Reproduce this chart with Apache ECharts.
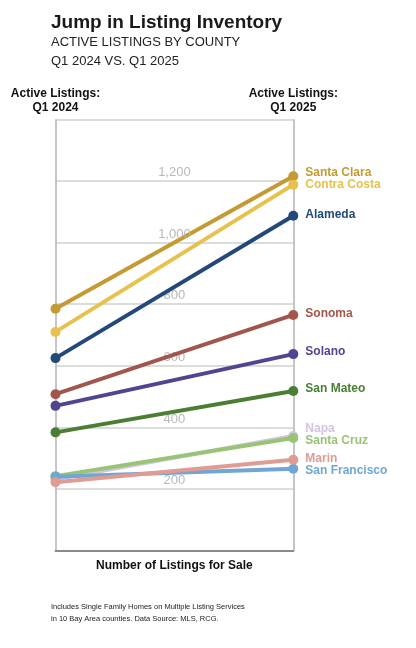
<!DOCTYPE html>
<html>
<head>
<meta charset="utf-8">
<script src="https://cdn.jsdelivr.net/npm/echarts@6/dist/echarts.min.js"></script>
<style>
html,body{margin:0;padding:0;background:#fff;}
#chart{width:416px;height:648px;}
</style>
</head>
<body>
<div id="chart"></div>
<script>
const periods = ['Active Listings:\nQ1 2024', 'Active Listings:\nQ1 2025'];
const counties = ['Santa Clara','Contra Costa','Alameda','Sonoma','Solano','San Mateo','Napa','Santa Cruz','San Francisco','Marin'];
const q1_2024 = [785, 710, 625, 508, 470, 384, 232, 242, 240, 222];
const q1_2025 = [1215, 1188, 1087, 765, 638, 518, 372, 366, 266, 295];
const colors = ['#C39A33','#E8C14C','#22497A','#A3554B','#4F4590','#4B7E32','#D0C4E0','#98C474','#6EA7D6','#E29B92'];
const labelOffsets = [-4, 0, -1, -1, -2, -2, -7, 3, 2, -1];
const gridTicks = [200, 400, 600, 800, 1000, 1200];

const chart = echarts.init(document.getElementById('chart'));

const series = counties.map((name, i) => ({
  name: name,
  type: 'line',
  data: [q1_2024[i], q1_2025[i]],
  symbol: 'circle',
  symbolSize: 10,
  z: 3 + i,
  lineStyle: { color: colors[i], width: 4 },
  itemStyle: { color: colors[i] },
  emphasis: { disabled: true },
  label: {
    show: true,
    formatter: (p) => p.dataIndex === 1 ? name : '',
    position: 'right',
    distance: 7,
    offset: [0, labelOffsets[i]],
    color: colors[i],
    fontFamily: 'Liberation Sans, Arial, sans-serif',
    fontWeight: 'bold',
    fontSize: 12
  }
}));

series.unshift({
  name: 'grid-labels',
  type: 'line',
  data: [0, 0],
  z: 1,
  silent: true,
  symbol: 'none',
  lineStyle: { color: 'rgba(0,0,0,0)', width: 0 },
  label: { show: false },
  markLine: {
    silent: true,
    symbol: 'none',
    animation: false,
    lineStyle: { color: 'rgba(0,0,0,0)', width: 1, type: 'solid' },
    label: {
      show: true,
      position: 'insideMiddleTop',
      distance: 2,
      formatter: (p) => Number(p.value).toLocaleString('en-US'),
      color: '#b8b8b8',
      fontFamily: 'Liberation Sans, Arial, sans-serif',
      fontSize: 13
    },
    data: gridTicks.map(v => ({ yAxis: v }))
  }
});

chart.setOption({
  animation: false,
  backgroundColor: '#fff',
  title: [
    {
      text: 'Jump in Listing Inventory',
      left: 46, top: 8,
      textStyle: { fontFamily: 'Liberation Sans, Arial, sans-serif', fontWeight: 'bold', fontSize: 19, color: '#1a1a1a' }
    },
    {
      text: 'ACTIVE LISTINGS BY COUNTY',
      left: 46, top: 31,
      textStyle: { fontFamily: 'Liberation Sans, Arial, sans-serif', fontWeight: 'normal', fontSize: 13, color: '#222' }
    },
    {
      text: 'Q1 2024 VS. Q1 2025',
      left: 46, top: 50,
      textStyle: { fontFamily: 'Liberation Sans, Arial, sans-serif', fontWeight: 'normal', fontSize: 13, color: '#222' }
    },
    {
      text: 'Includes Single Family Homes on Multiple Listing Services\nin 10 Bay Area counties. Data Source: MLS, RCG.',
      left: 46, top: 596,
      textStyle: { fontFamily: 'Liberation Sans, Arial, sans-serif', fontWeight: 'normal', fontSize: 7.5, lineHeight: 12, color: '#222' }
    }
  ],
  grid: { left: 55.5, right: 122.7, top: 119.3, bottom: 97.3, containLabel: false },
  xAxis: [
    {
      type: 'category',
      data: periods,
      boundaryGap: false,
      position: 'top',
      axisLine: { show: false },
      axisTick: { show: false },
      splitLine: { show: true, lineStyle: { color: '#b3b3b3', width: 1.5 } },
      axisLabel: {
        margin: 5,
        color: '#111',
        fontFamily: 'Liberation Sans, Arial, sans-serif',
        fontWeight: 'bold',
        fontSize: 12,
        lineHeight: 14
      }
    },
    {
      type: 'category',
      data: periods,
      boundaryGap: false,
      position: 'bottom',
      axisLine: { show: true, lineStyle: { color: '#8a8a8a', width: 2 } },
      axisTick: { show: false },
      axisLabel: { show: false },
      name: 'Number of Listings for Sale',
      nameLocation: 'middle',
      nameGap: 9,
      nameTextStyle: { color: '#111', fontFamily: 'Liberation Sans, Arial, sans-serif', fontWeight: 'bold', fontSize: 12 }
    }
  ],
  yAxis: {
    type: 'value',
    min: 0, max: 1400, interval: 200,
    axisLine: { show: false },
    axisTick: { show: false },
    axisLabel: { show: false },
    splitLine: { show: true, lineStyle: { color: '#cfd2d2', width: 1.5 } }
  },
  series: series
});
</script>
</body>
</html>
